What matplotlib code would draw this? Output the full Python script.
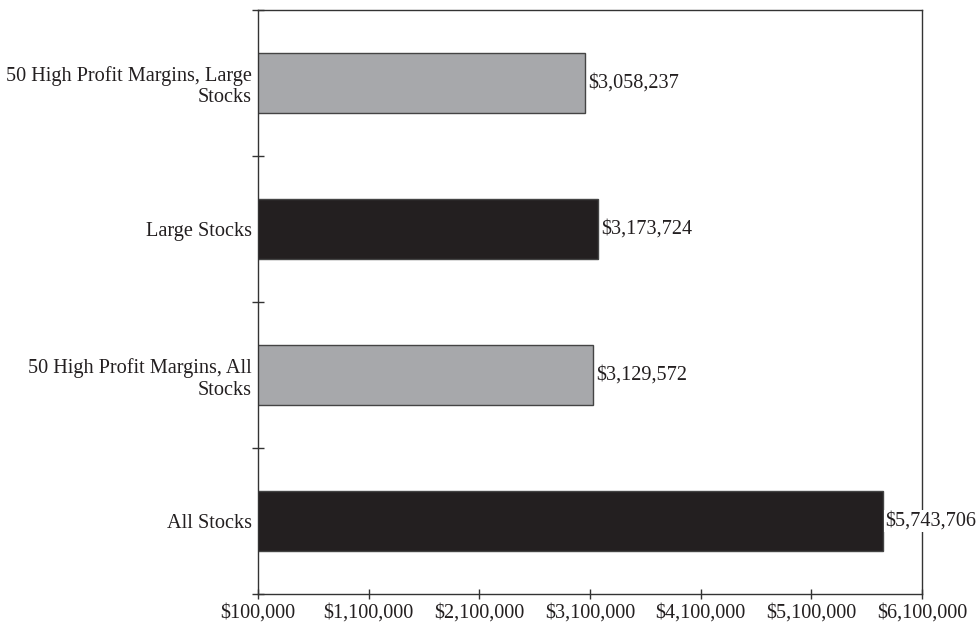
import numpy as np
import matplotlib
matplotlib.use("Agg")
import matplotlib.pyplot as plt
from matplotlib.ticker import FuncFormatter, FixedLocator

# --- data (bottom to top) ---
categories = ["All Stocks",
              "50 High Profit Margins, All\nStocks",
              "Large Stocks",
              "50 High Profit Margins, Large\nStocks"]
values = [5743706, 3129572, 3173724, 3058237]
bar_colors = ["#231f20", "#a7a8ab", "#231f20", "#a7a8ab"]
x_ticks = [100000, 1100000, 2100000, 3100000, 4100000, 5100000, 6100000]

FS = 14.6
plt.rcParams["font.family"] = ["Liberation Serif", "DejaVu Serif"]
plt.rcParams["font.size"] = FS

fig = plt.figure(figsize=(9.8, 6.28), dpi=100)
ax = fig.add_axes([258 / 980, 34 / 628, 664 / 980, 584.5 / 628])

y = np.arange(len(categories))
ax.barh(y, values, height=0.41, color=bar_colors, edgecolor="#444444", linewidth=1.0, zorder=2)

# value labels to the right of each bar
for yi, v in zip(y, values):
    ax.text(v + 25000, yi, "${:,.0f}".format(v), va="center", ha="left", fontsize=FS,
            color="#231f20", zorder=5, clip_on=False,
            bbox=dict(facecolor="white", edgecolor="none", pad=1.0))

ax.set_xlim(x_ticks[0], x_ticks[-1])
ax.set_ylim(-0.5, len(categories) - 0.5)

ax.xaxis.set_major_locator(FixedLocator(x_ticks))
ax.xaxis.set_major_formatter(FuncFormatter(lambda v, p: "${:,.0f}".format(v)))
ax.tick_params(axis="x", direction="inout", length=7.5, width=1.0, color="#333333",
               pad=3, labelsize=FS, labelcolor="#231f20")

# boundary ticks on y, category labels as minor ticks with no marks
ax.set_yticks(np.arange(-0.5, len(categories), 1.0))
ax.set_yticklabels([])
ax.set_yticks(y, minor=True)
ax.set_yticklabels(categories, minor=True)
ax.tick_params(axis="y", which="major", direction="inout", length=8, width=1.0, color="#333333")
ax.tick_params(axis="y", which="minor", length=0, pad=4.5, labelsize=FS, labelcolor="#231f20")

for s in ax.spines.values():
    s.set_linewidth(1.0)
    s.set_color("#333333")

fig.savefig("out.png", dpi=100)
